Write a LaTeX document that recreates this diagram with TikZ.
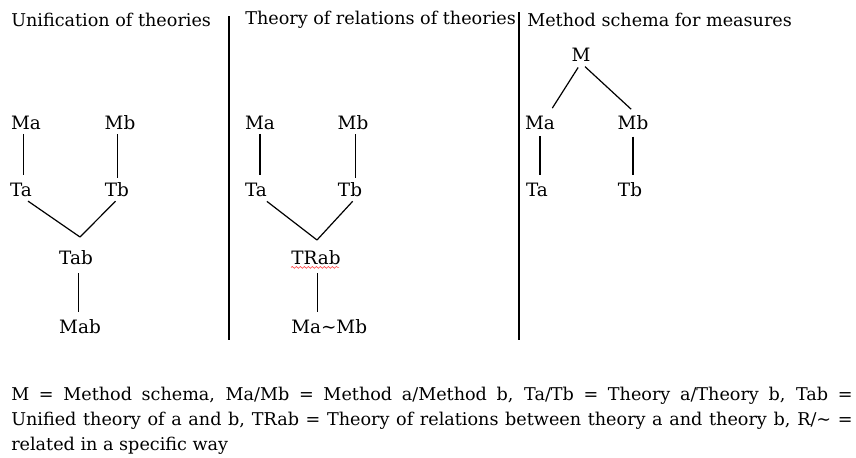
\documentclass[tikz,border=0pt]{standalone}
\usepackage{fontspec}
\setmainfont{DejaVu Serif}
\usetikzlibrary{decorations.pathmorphing}

\tikzset{
  lbl/.style={inner sep=0.75pt, font=\fontsize{13.8}{16}\selectfont},
  txt/.style={anchor=west, inner sep=0.75pt, font=\fontsize{13.2}{15}\selectfont},
  link/.style={line width=0.9pt},
  sep/.style={line width=1.2pt}
}
\newcommand{\tld}{\char"007E}

\begin{document}
\begin{tikzpicture}[x=0.75pt,y=0.75pt,yscale=-1,xscale=1]
\useasboundingbox (0,0) rectangle (856,457);

% Text Node
\node [txt] (tit1) at (10,20) {Unification of theories};
% Text Node
\node [txt] (tit2) at (244,20) {Theory of relations of theories};
% Text Node
\node [txt] (tit3) at (526,20) {Method schema for measures};

%Straight Lines
\draw [sep] (229,16) -- (229,340) ;
\draw [sep] (519,12) -- (519,340) ;

%first tree
\node [lbl] (ma1) at (26,123) {Ma};
\node [lbl] (mb1) at (120,123) {Mb};
\node [lbl] (ta1) at (21,190) {Ta};
\node [lbl] (tb1) at (117,190) {Tb};
\node [lbl] (tab) at (76,258) {Tab};
\node [lbl] (mab) at (80,327) {Mab};
\coordinate (j1) at (80,237);
\draw [link, shorten <=2, shorten >=5] ([xshift=-2]ma1.south) -- ([xshift=-2]ma1.south |- ta1.north) ;
\draw [link, shorten <=2, shorten >=3] ([xshift=-2]mb1.south) -- ([xshift=-2]mb1.south |- tb1.north) ;
\draw [link, shorten <=4] ([xshift=2]ta1.south) -- (j1) ;
\draw [link, shorten <=3] ([xshift=1]tb1.south) -- (j1) ;
\draw [link, shorten <=5, shorten >=5] ([xshift=2]tab.south) -- ([xshift=2]tab.south |- mab.north) ;

%second tree
\node [lbl] (ma2) at (260,123) {Ma};
\node [lbl] (mb2) at (353,123) {Mb};
\node [lbl] (ta2) at (256,190) {Ta};
\node [lbl] (tb2) at (350,190) {Tb};
\node [lbl] (trab) at (316,258) {TRab};
\node [lbl, anchor=west] (mamb) at (290,327) {Ma\tld Mb};
\coordinate (j2) at (317,240);
\draw [link, shorten <=2, shorten >=5] (ma2.south) -- (ma2.south |- ta2.north) ;
\draw [link, shorten <=2, shorten >=3] ([xshift=2]mb2.south) -- ([xshift=2]mb2.south |- tb2.north) ;
\draw [link, shorten <=4] ([xshift=5]ta2.south) -- (j2) ;
\draw [link, shorten <=3] ([xshift=4]tb2.south) -- (j2) ;
\draw [link, shorten <=5, shorten >=5] ([xshift=1]trab.south) -- ([xshift=1]trab.south |- mamb.north) ;
%spell check wave
\draw [red!70, line width=0.5pt, decorate, decoration={snake,amplitude=0.7pt,segment length=3pt}] (trab.south west) ++(1,1) -- ++(48,0) ;

%third tree
\node [lbl] (m) at (581,55) {M};
\node [lbl] (ma3) at (540,123) {Ma};
\node [lbl] (mb3) at (633,123) {Mb};
\node [lbl] (ta3) at (537,190) {Ta};
\node [lbl] (tb3) at (630,190) {Tb};
\draw [link, shorten <=4, shorten >=6] (m.south) -- ([xshift=6]ma3.north) ;
\draw [link, shorten <=4, shorten >=6] (m.south) -- ([xshift=3]mb3.north) ;
\draw [link, shorten <=4, shorten >=5] (ma3.south) -- (ma3.south |- ta3.north) ;
\draw [link, shorten <=4, shorten >=5] (mb3.south) -- (mb3.south |- tb3.north) ;

% Text Node
\node [txt] (leg1) at (10,396) {\makebox[631pt][s]{M = Method schema, Ma/Mb = Method a/Method b, Ta/Tb = Theory a/Theory b, Tab =}};
% Text Node
\node [txt] (leg2) at (10,421) {\makebox[631pt][s]{Unified theory of a and b, TRab = Theory of relations between theory a and theory b, R/\tld{} =}};
% Text Node
\node [txt] (leg3) at (10,446) {related in a specific way};

\end{tikzpicture}
\end{document}
